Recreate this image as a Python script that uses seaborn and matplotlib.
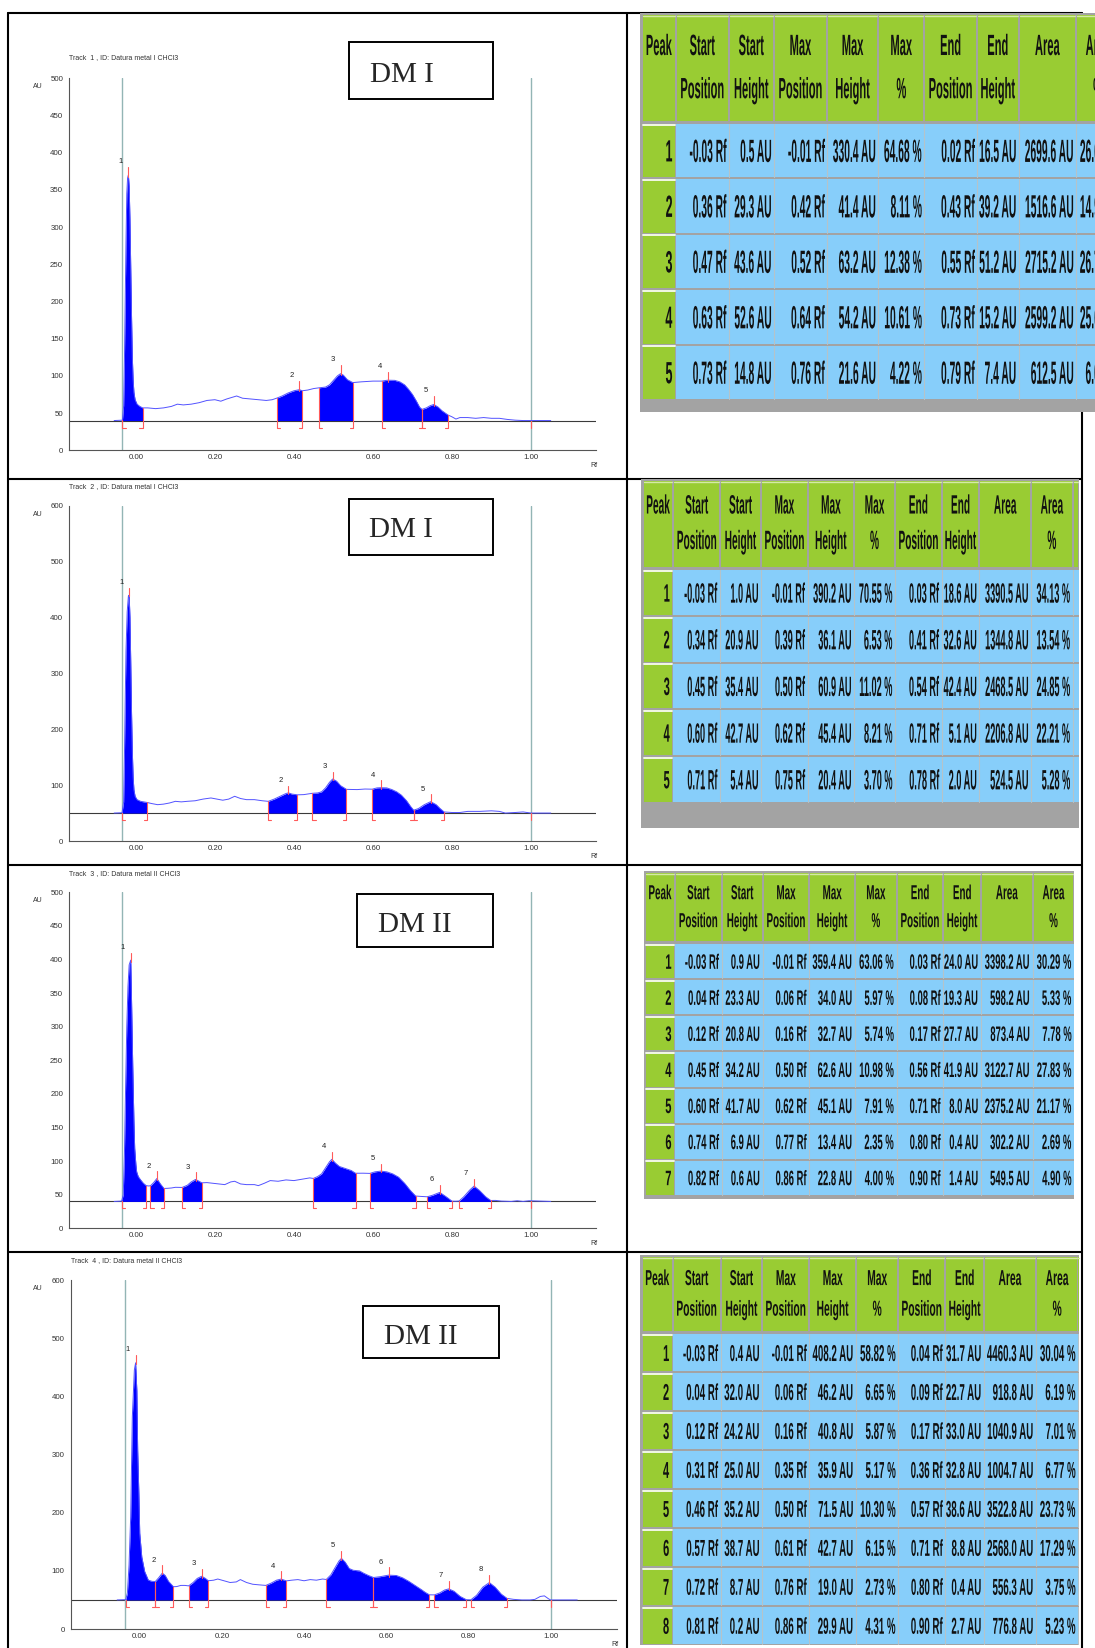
import numpy as np
import pandas as pd
import matplotlib
matplotlib.use("Agg")
import matplotlib.pyplot as plt
import seaborn as sns
from matplotlib.patches import Rectangle
from matplotlib.patheffects import AbstractPathEffect
from matplotlib.transforms import Affine2D

# ---------------- densitogram data (Rf, AU) ----------------
t1_curve = [(-0.055, 40.0), (-0.034, 40.5), (-0.031, 60), (-0.029, 120), (-0.027, 200), (-0.025, 280),
            (-0.023, 345), (-0.021, 366), (-0.019, 370), (-0.017, 355), (-0.015, 310), (-0.013, 245),
            (-0.011, 180), (-0.009, 125), (-0.007, 95), (-0.005, 78), (-0.002, 68), (0.003, 62),
            (0.010, 59), (0.017, 57), (0.03, 57), (0.05, 56), (0.07, 57), (0.09, 59), (0.105, 62),
            (0.12, 61), (0.14, 62), (0.16, 64), (0.18, 67), (0.20, 68), (0.215, 66), (0.23, 69),
            (0.255, 73), (0.27, 70), (0.29, 69), (0.31, 68), (0.33, 67), (0.345, 68), (0.356, 70),
            (0.37, 73), (0.385, 77), (0.40, 80), (0.414, 81.5), (0.421, 80), (0.435, 81), (0.45, 83),
            (0.464, 84), (0.48, 85), (0.49, 88), (0.50, 94), (0.51, 100), (0.518, 103), (0.525, 101),
            (0.535, 95), (0.549, 91), (0.57, 92), (0.60, 93), (0.622, 93), (0.637, 94.2), (0.655, 94),
            (0.668, 92), (0.68, 88), (0.69, 82), (0.70, 75), (0.71, 66), (0.718, 58), (0.724, 55),
            (0.735, 57), (0.745, 60), (0.754, 61.6), (0.765, 58), (0.775, 53), (0.79, 47.4),
            (0.80, 45), (0.81, 42), (0.82, 44), (0.84, 44), (0.86, 43), (0.88, 44), (0.90, 43),
            (0.92, 43), (0.94, 41.5), (0.96, 40.5), (0.98, 40), (1.05, 40)]
t1_start = [-0.034, 0.356, 0.464, 0.622, 0.724]
t1_max = [-0.019, 0.414, 0.518, 0.637, 0.754]
t1_end = [0.017, 0.421, 0.549, 0.724, 0.79]

t2_curve = [(-0.055, 50), (-0.035, 50.5), (-0.031, 70), (-0.029, 150), (-0.027, 250), (-0.025, 340),
            (-0.022, 410), (-0.019, 438), (-0.017, 440), (-0.015, 400), (-0.013, 320), (-0.011, 230),
            (-0.009, 160), (-0.007, 115), (-0.005, 92), (-0.002, 80), (0.003, 74), (0.012, 71),
            (0.028, 69), (0.04, 67), (0.055, 65), (0.07, 66), (0.085, 68), (0.10, 71), (0.115, 70),
            (0.13, 71), (0.15, 72), (0.17, 75), (0.19, 77), (0.205, 75), (0.22, 73), (0.235, 75),
            (0.25, 80), (0.265, 76), (0.28, 74), (0.30, 74), (0.32, 72), (0.335, 71), (0.35, 75),
            (0.365, 80), (0.38, 85), (0.386, 86.1), (0.395, 84), (0.409, 82.6), (0.425, 83),
            (0.447, 85.4), (0.46, 86), (0.47, 88), (0.48, 95), (0.49, 105), (0.498, 110.9),
            (0.508, 107), (0.518, 99), (0.533, 92.4), (0.56, 92), (0.58, 93), (0.598, 92.7),
            (0.61, 95), (0.62, 95.4), (0.635, 95), (0.648, 92), (0.66, 88), (0.672, 82), (0.685, 72),
            (0.695, 62), (0.703, 55.1), (0.715, 58), (0.73, 65), (0.746, 70.4), (0.76, 65),
            (0.77, 58), (0.78, 52), (0.80, 51), (0.82, 51), (0.84, 53), (0.87, 53), (0.90, 54),
            (0.92, 53), (0.935, 50), (0.96, 51), (0.98, 52), (1.00, 50), (1.05, 50)]
t2_start = [-0.035, 0.335, 0.447, 0.598, 0.703]
t2_max = [-0.017, 0.386, 0.498, 0.62, 0.746]
t2_end = [0.028, 0.409, 0.533, 0.703, 0.78]

t3_curve = [(-0.055, 40), (-0.036, 40.5), (-0.032, 50), (-0.029, 110), (-0.026, 210), (-0.023, 300),
            (-0.020, 360), (-0.017, 392), (-0.013, 399), (-0.011, 340), (-0.008, 243), (-0.005, 160),
            (-0.003, 119), (0.000, 95), (0.002, 84), (0.006, 77), (0.012, 72), (0.019, 67),
            (0.026, 63.5), (0.032, 63), (0.037, 63.3), (0.045, 68), (0.053, 74), (0.062, 66),
            (0.071, 59.3), (0.08, 59.5), (0.09, 60), (0.10, 61), (0.117, 60.8), (0.13, 64),
            (0.14, 69), (0.151, 72.7), (0.16, 70), (0.167, 67.7), (0.18, 68), (0.195, 67),
            (0.21, 66), (0.225, 65), (0.24, 69), (0.25, 70), (0.265, 66), (0.28, 65), (0.30, 65),
            (0.31, 63.5), (0.325, 67), (0.34, 71), (0.36, 70), (0.38, 72), (0.40, 71), (0.42, 73),
            (0.44, 75), (0.449, 74.2), (0.46, 77), (0.47, 81), (0.48, 90), (0.49, 99), (0.496, 102.6),
            (0.505, 97), (0.515, 92), (0.53, 89), (0.545, 86), (0.556, 81.9), (0.575, 82),
            (0.592, 81.7), (0.605, 84), (0.62, 85.1), (0.635, 84), (0.65, 81), (0.665, 76),
            (0.68, 67), (0.695, 56), (0.708, 48), (0.72, 47.5), (0.737, 46.9), (0.75, 49),
            (0.769, 53.4), (0.785, 47), (0.80, 40.4), (0.81, 40.3), (0.818, 40.6), (0.83, 47),
            (0.845, 57), (0.856, 62.8), (0.87, 56), (0.885, 47), (0.898, 41.4), (0.91, 41.5),
            (0.925, 40.5), (0.95, 40), (0.965, 41), (0.98, 40), (0.995, 41), (1.05, 40)]
t3_start = [-0.036, 0.037, 0.117, 0.449, 0.592, 0.737, 0.818]
t3_max = [-0.013, 0.053, 0.151, 0.496, 0.62, 0.769, 0.856]
t3_end = [0.026, 0.071, 0.167, 0.556, 0.708, 0.80, 0.898]

t4_curve = [(-0.055, 50), (-0.034, 50.5), (-0.030, 62), (-0.026, 110), (-0.022, 193), (-0.018, 365),
            (-0.013, 446), (-0.010, 458), (-0.007, 410), (-0.005, 308), (-0.002, 230), (0.000, 165),
            (0.005, 124), (0.012, 99), (0.021, 84), (0.030, 82), (0.038, 81.7), (0.046, 88),
            (0.055, 96.2), (0.062, 92), (0.07, 82), (0.082, 72.7), (0.09, 73), (0.10, 75), (0.11, 75),
            (0.119, 74.2), (0.13, 80), (0.14, 87), (0.151, 90.8), (0.16, 87), (0.167, 83), (0.18, 84),
            (0.19, 86), (0.205, 83), (0.22, 80), (0.235, 81), (0.245, 85), (0.26, 80), (0.275, 77),
            (0.29, 76), (0.307, 75), (0.32, 79), (0.333, 84), (0.344, 85.9), (0.357, 82.8),
            (0.37, 84), (0.385, 85), (0.40, 83), (0.415, 85), (0.43, 84), (0.445, 86), (0.454, 85.2),
            (0.465, 93), (0.475, 105), (0.485, 117), (0.491, 121.5), (0.50, 115), (0.51, 104),
            (0.52, 101), (0.535, 100), (0.545, 96), (0.557, 92), (0.569, 88.6), (0.585, 90),
            (0.606, 92.7), (0.625, 92), (0.64, 88), (0.655, 82), (0.67, 75), (0.685, 68), (0.695, 63),
            (0.705, 58.8), (0.717, 58.7), (0.73, 62), (0.742, 67), (0.752, 69), (0.765, 65),
            (0.78, 56), (0.795, 50.4), (0.806, 50.2), (0.82, 58), (0.835, 72), (0.851, 79.9),
            (0.865, 72), (0.88, 60), (0.894, 52.7), (0.91, 51), (0.93, 50), (0.95, 50), (0.962, 51),
            (0.975, 56), (0.985, 57), (0.995, 52), (1.00, 50), (1.065, 50)]
t4_start = [-0.034, 0.038, 0.119, 0.307, 0.454, 0.569, 0.717, 0.806]
t4_max = [-0.010, 0.055, 0.151, 0.344, 0.491, 0.606, 0.752, 0.851]
t4_end = [0.038, 0.082, 0.167, 0.357, 0.569, 0.705, 0.795, 0.894]

baselines = [40, 50, 40, 50]
front_rf = [-0.035, 1.00]
track_titles = ["Track  1 , ID: Datura metal I CHCl3", "Track  2 , ID: Datura metal I CHCl3",
                "Track  3 , ID: Datura metal II CHCl3", "Track  4 , ID: Datura metal II CHCl3"]
sample_labels = ["DM I", "DM I", "DM II", "DM II"]

# ---------------- peak tables ----------------
head_top = ["Peak", "Start", "Start", "Max", "Max", "Max", "End", "End", "Area", "Area"]
head_bot = ["", "Position", "Height", "Position", "Height", "%", "Position", "Height", "", "%"]

tab1_rows = [
    ["1", "-0.03 Rf", "0.5 AU", "-0.01 Rf", "330.4 AU", "64.68 %", "0.02 Rf", "16.5 AU", "2699.6 AU", "26.62 %"],
    ["2", "0.36 Rf", "29.3 AU", "0.42 Rf", "41.4 AU", "8.11 %", "0.43 Rf", "39.2 AU", "1516.6 AU", "14.95 %"],
    ["3", "0.47 Rf", "43.6 AU", "0.52 Rf", "63.2 AU", "12.38 %", "0.55 Rf", "51.2 AU", "2715.2 AU", "26.77 %"],
    ["4", "0.63 Rf", "52.6 AU", "0.64 Rf", "54.2 AU", "10.61 %", "0.73 Rf", "15.2 AU", "2599.2 AU", "25.63 %"],
    ["5", "0.73 Rf", "14.8 AU", "0.76 Rf", "21.6 AU", "4.22 %", "0.79 Rf", "7.4 AU", "612.5 AU", "6.04 %"],
]
tab2_rows = [
    ["1", "-0.03 Rf", "1.0 AU", "-0.01 Rf", "390.2 AU", "70.55 %", "0.03 Rf", "18.6 AU", "3390.5 AU", "34.13 %"],
    ["2", "0.34 Rf", "20.9 AU", "0.39 Rf", "36.1 AU", "6.53 %", "0.41 Rf", "32.6 AU", "1344.8 AU", "13.54 %"],
    ["3", "0.45 Rf", "35.4 AU", "0.50 Rf", "60.9 AU", "11.02 %", "0.54 Rf", "42.4 AU", "2468.5 AU", "24.85 %"],
    ["4", "0.60 Rf", "42.7 AU", "0.62 Rf", "45.4 AU", "8.21 %", "0.71 Rf", "5.1 AU", "2206.8 AU", "22.21 %"],
    ["5", "0.71 Rf", "5.4 AU", "0.75 Rf", "20.4 AU", "3.70 %", "0.78 Rf", "2.0 AU", "524.5 AU", "5.28 %"],
]
tab3_rows = [
    ["1", "-0.03 Rf", "0.9 AU", "-0.01 Rf", "359.4 AU", "63.06 %", "0.03 Rf", "24.0 AU", "3398.2 AU", "30.29 %"],
    ["2", "0.04 Rf", "23.3 AU", "0.06 Rf", "34.0 AU", "5.97 %", "0.08 Rf", "19.3 AU", "598.2 AU", "5.33 %"],
    ["3", "0.12 Rf", "20.8 AU", "0.16 Rf", "32.7 AU", "5.74 %", "0.17 Rf", "27.7 AU", "873.4 AU", "7.78 %"],
    ["4", "0.45 Rf", "34.2 AU", "0.50 Rf", "62.6 AU", "10.98 %", "0.56 Rf", "41.9 AU", "3122.7 AU", "27.83 %"],
    ["5", "0.60 Rf", "41.7 AU", "0.62 Rf", "45.1 AU", "7.91 %", "0.71 Rf", "8.0 AU", "2375.2 AU", "21.17 %"],
    ["6", "0.74 Rf", "6.9 AU", "0.77 Rf", "13.4 AU", "2.35 %", "0.80 Rf", "0.4 AU", "302.2 AU", "2.69 %"],
    ["7", "0.82 Rf", "0.6 AU", "0.86 Rf", "22.8 AU", "4.00 %", "0.90 Rf", "1.4 AU", "549.5 AU", "4.90 %"],
]
tab4_rows = [
    ["1", "-0.03 Rf", "0.4 AU", "-0.01 Rf", "408.2 AU", "58.82 %", "0.04 Rf", "31.7 AU", "4460.3 AU", "30.04 %"],
    ["2", "0.04 Rf", "32.0 AU", "0.06 Rf", "46.2 AU", "6.65 %", "0.09 Rf", "22.7 AU", "918.8 AU", "6.19 %"],
    ["3", "0.12 Rf", "24.2 AU", "0.16 Rf", "40.8 AU", "5.87 %", "0.17 Rf", "33.0 AU", "1040.9 AU", "7.01 %"],
    ["4", "0.31 Rf", "25.0 AU", "0.35 Rf", "35.9 AU", "5.17 %", "0.36 Rf", "32.8 AU", "1004.7 AU", "6.77 %"],
    ["5", "0.46 Rf", "35.2 AU", "0.50 Rf", "71.5 AU", "10.30 %", "0.57 Rf", "38.6 AU", "3522.8 AU", "23.73 %"],
    ["6", "0.57 Rf", "38.7 AU", "0.61 Rf", "42.7 AU", "6.15 %", "0.71 Rf", "8.8 AU", "2568.0 AU", "17.29 %"],
    ["7", "0.72 Rf", "8.7 AU", "0.76 Rf", "19.0 AU", "2.73 %", "0.80 Rf", "0.4 AU", "556.3 AU", "3.75 %"],
    ["8", "0.81 Rf", "0.2 AU", "0.86 Rf", "29.9 AU", "4.31 %", "0.90 Rf", "2.7 AU", "776.8 AU", "5.23 %"],
]

# ======================================================================
sns.set_style("white")
plt.rcParams['font.family'] = ['Liberation Sans', 'DejaVu Sans']

W, H = 1095, 1648
fig = plt.figure(figsize=(W / 100, H / 100), dpi=100)


def px_rect(l, t, r, b):
    return [l / W, 1 - b / H, (r - l) / W, (b - t) / H]


class Tall(AbstractPathEffect):
    # the scanned tables are squashed sideways, so stretch the glyphs upward
    def __init__(self, sy):
        super().__init__()
        self.sy = sy

    def draw_path(self, renderer, gc, tpath, affine, rgbFace=None):
        renderer.draw_path(gc, tpath, Affine2D().scale(1, self.sy) + affine, rgbFace)


RED = '#ff5a5a'

tracks = [
    dict(curve=t1_curve, starts=t1_start, maxes=t1_max, ends=t1_end, ymax=500, step=50,
         rect=(69.1, 78.3, 596.2, 450.3), xl=(-0.169, 1.165), title_y=57.3,
         box=(348.7, 42.3, 493.4, 99.0), box_txt=(369.6, 81.7)),
    dict(curve=t2_curve, starts=t2_start, maxes=t2_max, ends=t2_end, ymax=600, step=100,
         rect=(69.1, 505.7, 596.2, 841.0), xl=(-0.169, 1.165), title_y=486.7,
         box=(348.7, 499.0, 493.4, 555.0), box_txt=(368.8, 537.3)),
    dict(curve=t3_curve, starts=t3_start, maxes=t3_max, ends=t3_end, ymax=500, step=50,
         rect=(69.1, 892.3, 596.2, 1228.3), xl=(-0.169, 1.165), title_y=873.3,
         box=(356.8, 894.3, 493.4, 946.7), box_txt=(377.7, 932.3)),
    dict(curve=t4_curve, starts=t4_start, maxes=t4_max, ends=t4_end, ymax=600, step=100,
         rect=(70.7, 1280.3, 616.7, 1629.0), xl=(-0.168, 1.161), title_y=1261.0,
         box=(362.8, 1306.0, 499.0, 1358.3), box_txt=(383.7, 1344.0)),
]

for k, tr in enumerate(tracks):
    ax = fig.add_axes(px_rect(*tr['rect']))
    df = pd.DataFrame(tr['curve'], columns=['Rf', 'AU'])
    base, ymax = baselines[k], tr['ymax']

    ax.axhline(base, color='#3a3a3a', lw=0.8, zorder=1)
    for xv in front_rf:
        ax.axvline(xv, color='#93b5b5', lw=1.0, zorder=1)

    for s, e in zip(tr['starts'], tr['ends']):
        seg = df[(df.Rf >= s - 1e-6) & (df.Rf <= e + 1e-6)]
        ax.fill_between(seg.Rf, base, seg.AU, color='#0000ff', lw=0, zorder=2)

    sns.lineplot(data=df, x='Rf', y='AU', ax=ax, color='#5252ff', lw=0.7,
                 estimator=None, sort=False, zorder=3)

    def h_at(x):
        return df.AU[np.isclose(df.Rf, x)].iloc[0]

    dip = 0.02 * ymax
    for s in tr['starts']:
        ax.plot([s, s, s + 0.008], [h_at(s), base - dip, base - dip], color=RED, lw=0.8, zorder=4)
    for e in tr['ends']:
        ax.plot([e - 0.008, e, e], [base - dip, base - dip, h_at(e)], color=RED, lw=0.8, zorder=4)
    for i, m in enumerate(tr['maxes']):
        h = h_at(m)
        ax.plot([m, m], [h - 0.004 * ymax, h + 0.022 * ymax], color=RED, lw=0.8, zorder=4)
        ax.text(m - 0.02, h + 0.037 * ymax, str(i + 1), fontsize=5.5, ha='center', va='center',
                color='#222222')
    ax.plot([1.0, 1.0], [base - dip, base], color=RED, lw=0.8, zorder=4)

    ax.set_xlim(*tr['xl'])
    ax.set_ylim(0, ymax)
    xt = np.arange(0, 1.01, 0.2)
    ax.set_xticks(xt)
    ax.set_xticklabels([f'{v:.2f}' for v in xt])
    ax.set_yticks(np.arange(0, ymax + 1, tr['step']))
    ax.set_xlabel('')
    ax.set_ylabel('')
    sns.despine(ax=ax)
    for sp in ['left', 'bottom']:
        ax.spines[sp].set_color('#555555')
        ax.spines[sp].set_linewidth(0.8)
    ax.tick_params(axis='y', length=3.5, width=0.6, color='#555555', pad=0.8,
                   labelsize=5.7, labelcolor='#333333')
    ax.tick_params(axis='x', length=0, pad=3, labelsize=5.7, labelcolor='#333333')

# ---------------- overlay: frame, sample boxes, captions, tables ----------------
ov = fig.add_axes([0, 0, 1, 1])
ov.set_xlim(0, W)
ov.set_ylim(H, 0)
ov.axis('off')

for x in (8.4, 627.4, 1081.7):
    ov.plot([x, x], [12.5, H], color='black', lw=1.5, zorder=0.5)
for y in (12.5, 479.0, 865.0, 1251.5):
    ov.plot([8.4, 1081.7], [y, y], color='black', lw=1.5, zorder=0.5)

for k, tr in enumerate(tracks):
    l, t, r, b = tr['rect']
    ov.text(l, tr['title_y'], track_titles[k], fontsize=5, color='#333333', va='center', ha='left')
    ov.text(37.5, t + 8.5, 'AU', fontsize=5, color='#333333', va='center', ha='center')
    ov.text(r - 2, b + 15.5, 'Rf', fontsize=5, color='#333333', va='center', ha='center')
    bl, bt, br, bb = tr['box']
    ov.add_patch(Rectangle((bl, bt), br - bl, bb - bt, fc='white', ec='black', lw=1.4, zorder=2))
    ov.text(tr['box_txt'][0], tr['box_txt'][1], sample_labels[k], fontsize=21,
            family='Liberation Serif', va='baseline', ha='left', zorder=3)

GREEN = '#99cc33'
BLUE = '#87cefa'
GRAY = '#a3a3a3'


def ttext(x, y, s, size, cap, ha):
    sy = cap / (0.716 * size * 100 / 72)
    ov.text(x, y, s, fontsize=size, ha=ha, va='baseline', fontweight='bold', color='#111111',
            path_effects=[Tall(sy)], zorder=3)


table_layout = [
    dict(rows=tab1_rows, cols=[641.7, 676, 728.7, 774, 827, 878.3, 924.3, 977, 1018.7, 1076, 1120],
         htop=15, hbot=121.7, rbot=400, gray_to=411.7, sliver=None,
         dsz=7.4, dcap=23, hsz=8.0, hcap=21, psz=9, pcap=22),
    dict(rows=tab2_rows, cols=[642.7, 673.3, 720, 761, 807.7, 854, 895, 941.7, 979.3, 1031, 1072.7],
         htop=480.7, hbot=568.3, rbot=802.7, gray_to=827.7, sliver=1079.3,
         dsz=6.6, dcap=20, hsz=7.3, hcap=19, psz=8, pcap=18),
    dict(rows=tab3_rows, cols=[645, 675, 721.7, 762.7, 809.3, 855, 896.7, 943.3, 981, 1032.7, 1074.3],
         htop=873.3, hbot=942.3, rbot=1195.7, gray_to=1198.5, sliver=None,
         dsz=6.8, dcap=15, hsz=7.1, hcap=14.5, psz=8, pcap=15),
    dict(rows=tab4_rows, cols=[641.7, 672.7, 720.7, 762.3, 809.3, 856, 898.3, 945.3, 984, 1036, 1078.3],
         htop=1256.7, hbot=1332.3, rbot=1645, gray_to=None, sliver=1079.3,
         dsz=7.0, dcap=16.5, hsz=7.4, hcap=15.5, psz=8, pcap=16.5),
]

for L in table_layout:
    cols, rows = L['cols'], L['rows']
    edges = list(cols) + ([L['sliver']] if L['sliver'] else [])
    xend = edges[-1]
    htop, hbot = L['htop'], L['hbot']
    bottom = L['gray_to'] or L['rbot']
    ov.add_patch(Rectangle((cols[0] - 1.5, htop - 2), xend - cols[0] + 1.5, bottom - htop + 2,
                           fc=GRAY, ec='none', zorder=1))
    for a, b in zip(edges[:-1], edges[1:]):
        ov.add_patch(Rectangle((a + 1, htop), b - a - 2, hbot - htop - 1, fc=GREEN, ec='none', zorder=1.1))
        ov.plot([a + 1, b - 1], [htop + 0.8, htop + 0.8], color='#d4eaa6', lw=1, zorder=1.2)

    rtop = hbot + 1
    rh = (L['rbot'] - rtop) / len(rows)
    for r in range(len(rows)):
        y0 = rtop + r * rh
        ov.add_patch(Rectangle((cols[0] + 1, y0 + 1), cols[1] - cols[0] - 2, rh - 2,
                               fc=GREEN, ec='none', zorder=1.1))
        ov.plot([cols[0] + 1, cols[1] - 1], [y0 + 1.8, y0 + 1.8], color='#f2f8e6', lw=1.4, zorder=1.2)
        ov.add_patch(Rectangle((cols[1], y0 + 1), xend - cols[1], rh - 2, fc=BLUE, ec='none', zorder=1.1))
        for c in edges[2:-1]:
            ov.plot([c, c], [y0 + 1, y0 + rh - 1], color='#b5c3c9', lw=0.8, zorder=1.3)

    hh = hbot - htop
    for i, (a, b) in enumerate(zip(cols[:-1], cols[1:])):
        cx = (a + b) / 2
        if head_top[i]:
            ttext(cx, htop + 0.375 * hh, head_top[i], L['hsz'], L['hcap'], 'center')
        if head_bot[i]:
            ttext(cx, htop + 0.78 * hh, head_bot[i], L['hsz'], L['hcap'], 'center')

    for r, row in enumerate(rows):
        yc = rtop + r * rh + rh / 2
        ttext(cols[1] - 3.5, yc + L['pcap'] / 2, row[0], L['psz'], L['pcap'], 'right')
        for j, s in enumerate(row[1:]):
            ttext(cols[j + 2] - 2.5, yc + L['dcap'] / 2, s, L['dsz'], L['dcap'], 'right')

fig.savefig('out.png', dpi=100)
